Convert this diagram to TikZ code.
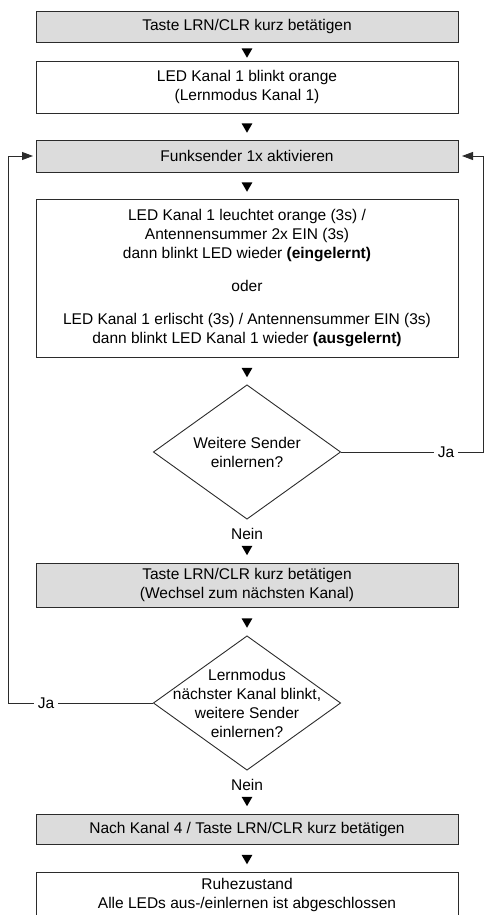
\documentclass[tikz,border=0pt]{standalone}
\usepackage{fontspec}
\setmainfont{Liberation Sans}
\usetikzlibrary{shapes.geometric, arrows.meta, positioning}
\definecolor{hellgrau}{HTML}{DCDCDC}
\definecolor{strich}{HTML}{2B2B2B}

\begin{document}
\begin{tikzpicture}[x=1pt, y=-1pt, node distance=27pt,
  font=\fontsize{15.5}{19}\selectfont,
  kasten/.style={rectangle, minimum width=422pt, inner sep=3pt, outer sep=0pt, align=center, draw=strich, line width=0.9pt, fill=white},
  grau/.style={kasten, fill=hellgrau},
  raute/.style={diamond, aspect=1.4, minimum width=187pt, minimum height=134pt, inner sep=-14pt, outer sep=0pt, align=center, draw=strich, line width=0.9pt},
  pfeil/.style={regular polygon, regular polygon sides=3, shape border rotate=180, fill=black, inner sep=0pt, minimum size=12.5pt},
  verbindung/.style={draw=strich, line width=0.9pt},
  rueck/.style={verbindung, -{Triangle[length=11pt, width=8pt]}}]
\useasboundingbox (0,0) rectangle (488,915);

% Ablauf von oben nach unten
\node (taste1) [grau, minimum height=31pt] at (247,26.5) {Taste LRN/CLR kurz betätigen};
\node (led1) [kasten, minimum height=52pt, below=19pt of taste1] {LED Kanal 1 blinkt orange\\(Lernmodus Kanal 1)};
\node (funk) [grau, minimum height=32pt, below=of led1] {Funksender 1x aktivieren};
\node (ergebnis) [kasten, minimum height=158pt, below=of funk] {LED Kanal 1 leuchtet orange (3s) /\\Antennensummer 2x EIN (3s)\\dann blinkt LED wieder \textbf{(eingelernt)}\\[14pt]oder\\[14pt]LED Kanal 1 erlischt (3s) / Antennensummer EIN (3s)\\dann blinkt LED Kanal 1 wieder \textbf{(ausgelernt)}};
\node (weitere) [raute, below=28pt of ergebnis] {Weitere Sender\\einlernen?};
\node (taste2) [grau, minimum height=44pt, below=44pt of weitere] {Taste LRN/CLR kurz betätigen\\(Wechsel zum nächsten Kanal)};
\node (lernmodus) [raute, below=29pt of taste2] {Lernmodus\\nächster Kanal blinkt,\\weitere Sender\\einlernen?};
\node (nach) [grau, minimum height=30pt, below=44pt of lernmodus] {Nach Kanal 4 / Taste LRN/CLR kurz betätigen};
\node (ruhe) [kasten, minimum height=46pt, below=28pt of nach] {Ruhezustand\\Alle LEDs aus-/einlernen ist abgeschlossen};

% Dreiecke zwischen den Schritten
\foreach \a/\b in {taste1/led1, led1/funk, funk/ergebnis, ergebnis/weitere, taste2/lernmodus, nach/ruhe}
  \path (\a) -- node[pfeil] (p-\a) {} (\b);
\path (weitere) -- node[pos=0.35] (nein1) {Nein} node[pfeil, pos=0.68] (p-weitere) {} (taste2);
\path (lernmodus) -- node[pos=0.34] (nein2) {Nein} node[pfeil, pos=0.68] (p-lernmodus) {} (nach);

% Rueckfuehrung rechts und links
\node (jarechts) [inner sep=4pt] at (446,0 |- weitere) {Ja};
\draw[verbindung] (weitere) -- (jarechts);
\draw[rueck, shorten >=4pt] (jarechts) -| (483,0 |- funk) -- (funk);
\node (jalinks) [inner sep=4pt] at (46,0 |- lernmodus) {Ja};
\draw[verbindung] (lernmodus) -- (jalinks);
\draw[rueck, shorten >=3pt] (jalinks) -| (8,0 |- funk) -- (funk);

\end{tikzpicture}
\end{document}
